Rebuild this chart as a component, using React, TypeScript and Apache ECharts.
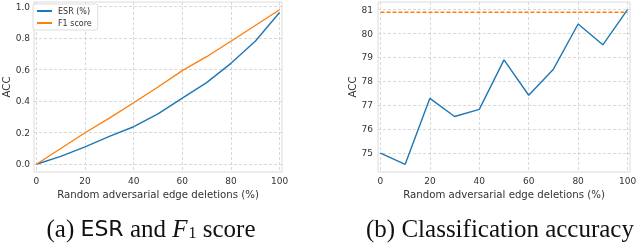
import React, { useEffect, useRef } from "react";
import * as echarts from "echarts";

const xValues = [0, 10, 20, 30, 40, 50, 60, 70, 80, 90, 100];
const esrValues = [0, 0.05, 0.11, 0.177, 0.238, 0.32, 0.42, 0.518, 0.64, 0.78, 0.962];
const f1Values = [0, 0.1, 0.2, 0.293, 0.39, 0.49, 0.594, 0.682, 0.78, 0.88, 0.98];
const accValues = [75.0, 74.53, 77.29, 76.53, 76.83, 78.9, 77.42, 78.51, 80.4, 79.53, 81.0];
const baselineAcc = 80.89;
const xTicks = [0, 20, 40, 60, 80, 100];
const leftYTicks = [0, 0.2, 0.4, 0.6, 0.8, 1.0];
const rightYTicks = [75, 76, 77, 78, 79, 80, 81];
const xAxisName = "Random adversarial edge deletions (%)";
const yAxisName = "ACC";
const legendNames = ["ESR (%)", "F1 score"];

const BLUE = "#1f77b4";
const ORANGE = "#ff7f0e";
const SANS = "DejaVu Sans";
const SERIF = "Liberation Serif";

export default function App() {
  const ref = useRef<HTMLDivElement>(null);
  useEffect(() => {
    if (!ref.current) return;
    const chart = echarts.init(ref.current, undefined, { renderer: "svg" });
    const pair = (ys: number[]) => xValues.map((x, i) => [x, ys[i]]);
    const splitLine = { show: true, lineStyle: { color: "#cfcfcf", type: [3, 2] as any, width: 0.8 } };
    const labelStyle = { fontFamily: SANS, fontSize: 9, color: "#333" };
    const nameStyle = { fontFamily: SANS, fontSize: 10.2, color: "#333" };
    const xAxisBase = (gridIndex: number) => ({
      type: "value",
      gridIndex,
      min: -1,
      max: 101,
      axisLine: { show: false },
      axisTick: { show: false, customValues: xTicks },
      splitLine,
      axisLabel: { ...labelStyle, margin: 4, customValues: xTicks, formatter: (v: number) => String(v) },
      name: xAxisName,
      nameLocation: "middle",
      nameGap: 12,
      nameTextStyle: nameStyle,
    });
    chart.setOption({
      animation: false,
      grid: [
        { left: 30, top: 2, width: 252, height: 170, show: true, borderColor: "#dcdcdc", borderWidth: 1, backgroundColor: "transparent" },
        { left: 378, top: 2, width: 252, height: 170, show: true, borderColor: "#dcdcdc", borderWidth: 1, backgroundColor: "transparent" },
      ],
      xAxis: [xAxisBase(0), xAxisBase(1)],
      yAxis: [
        {
          type: "value",
          gridIndex: 0,
          min: -0.049,
          max: 1.029,
          axisLine: { show: false },
          axisTick: { show: false, customValues: leftYTicks },
          splitLine,
          axisLabel: { ...labelStyle, margin: 4, customValues: leftYTicks, formatter: (v: number) => v.toFixed(1) },
          name: yAxisName,
          nameLocation: "middle",
          nameGap: 23,
          nameTextStyle: nameStyle,
        },
        {
          type: "value",
          gridIndex: 1,
          min: 74.21,
          max: 81.32,
          axisLine: { show: false },
          axisTick: { show: false, customValues: rightYTicks },
          splitLine,
          axisLabel: { ...labelStyle, margin: 5, customValues: rightYTicks, formatter: (v: number) => String(v) },
          name: yAxisName,
          nameLocation: "middle",
          nameGap: 13,
          nameTextStyle: nameStyle,
        },
      ],
      legend: {
        data: legendNames,
        orient: "vertical",
        left: 33,
        top: 4,
        itemWidth: 15,
        itemHeight: 2,
        itemGap: 4,
        icon: "rect",
        padding: [3, 6, 3, 4],
        borderColor: "#dddddd",
        borderWidth: 1,
        borderRadius: 2,
        backgroundColor: "#fff",
        textStyle: { fontFamily: SANS, fontSize: 8, color: "#333", padding: [0, 0, 0, 1] },
      },
      series: [
        {
          name: legendNames[0],
          type: "line",
          xAxisIndex: 0,
          yAxisIndex: 0,
          data: pair(esrValues),
          showSymbol: false,
          lineStyle: { color: BLUE, width: 1.4 },
          itemStyle: { color: BLUE },
        },
        {
          name: legendNames[1],
          type: "line",
          xAxisIndex: 0,
          yAxisIndex: 0,
          data: pair(f1Values),
          showSymbol: false,
          lineStyle: { color: ORANGE, width: 1.4 },
          itemStyle: { color: ORANGE },
        },
        {
          name: "ACC",
          type: "line",
          xAxisIndex: 1,
          yAxisIndex: 1,
          data: pair(accValues),
          showSymbol: false,
          lineStyle: { color: BLUE, width: 1.4 },
          itemStyle: { color: BLUE },
        },
        {
          name: "Baseline",
          type: "line",
          xAxisIndex: 1,
          yAxisIndex: 1,
          data: [
            [xValues[0], baselineAcc],
            [xValues[xValues.length - 1], baselineAcc],
          ],
          showSymbol: false,
          lineStyle: { color: ORANGE, width: 1.6, type: [4, 2] as any },
          itemStyle: { color: ORANGE },
        },
      ],
      graphic: [
        {
          type: "text",
          x: 151,
          y: 228,
          style: {
            text: "(a) {s|ESR} and {i|F}{sub|1} score",
            fontFamily: SERIF,
            fontSize: 25,
            fill: "#111",
            align: "center",
            verticalAlign: "middle",
            rich: {
              s: { fontFamily: SANS, fontSize: 22, fill: "#111" },
              i: { fontFamily: SERIF, fontStyle: "italic", fontSize: 25, fill: "#111" },
              sub: { fontFamily: SERIF, fontSize: 16, fill: "#111", verticalAlign: "bottom", lineHeight: 16, padding: [7, 0, 0, 1] },
            },
          },
        },
        {
          type: "text",
          x: 500,
          y: 228,
          style: {
            text: "(b) Classification accuracy",
            fontFamily: SERIF,
            fontSize: 25,
            fill: "#111",
            align: "center",
            verticalAlign: "middle",
          },
        },
      ],
    });
    return () => chart.dispose();
  }, []);
  return <div ref={ref} style={{ position: "fixed", left: 0, top: 0, width: 640, height: 244 }} />;
}
